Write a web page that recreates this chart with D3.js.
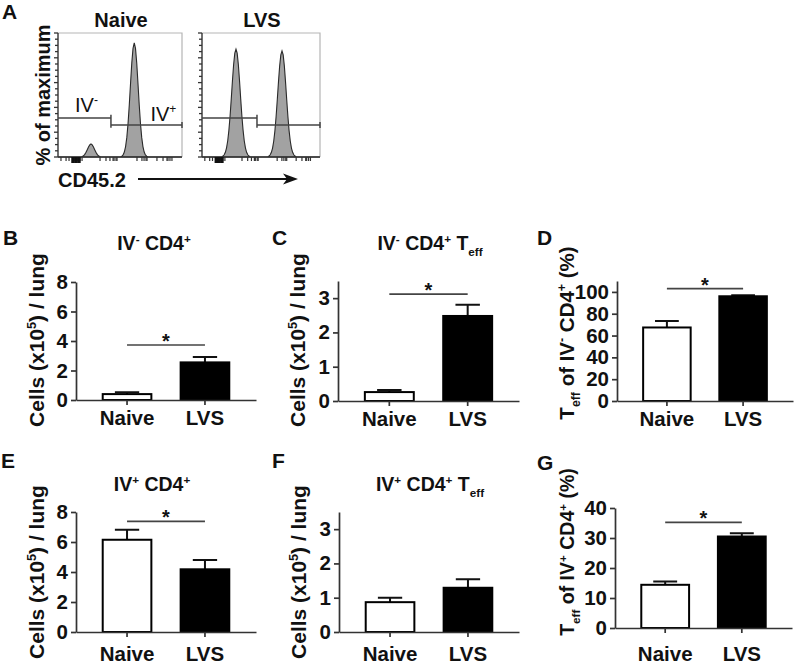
<!DOCTYPE html>
<html><head><meta charset="utf-8">
<script src="https://cdn.jsdelivr.net/npm/d3@7"></script>
<style>
body{margin:0;background:#fff}
svg text{font-family:"Liberation Sans",Arial,Helvetica,sans-serif;font-weight:bold;fill:#111;white-space:pre}
</style>
</head><body><svg id="c" width="800" height="670"></svg>
<script>
// ---------------- DATA ----------------
const categories = ["Naive", "LVS"];

const ivNegCD4Mean = [0.40, 2.55];
const ivNegCD4Sem = [0.13, 0.36];
const ivNegTeffMean = [0.26, 2.48];
const ivNegTeffSem = [0.06, 0.33];
const ivNegTeffPctMean = [67.4, 96.0];
const ivNegTeffPctSem = [6.0, 1.0];
const ivPosCD4Mean = [6.15, 4.18];
const ivPosCD4Sem = [0.66, 0.62];
const ivPosTeffMean = [0.87, 1.29];
const ivPosTeffSem = [0.13, 0.25];
const ivPosTeffPctMean = [14.4, 30.5];
const ivPosTeffPctSem = [1.1, 1.1];

// significance bar heights (null = no bar)
const sigLevels = [3.73, 3.12, 103, 7.38, null, 35.2];

const cellTicks8 = [0, 2, 4, 6, 8];
const cellTicks3 = [0, 1, 2, 3];
const pctTicks100 = [0, 20, 40, 60, 80, 100];
const pctTicks40 = [0, 10, 20, 30, 40];

// Histogram (CD45.2 channel 0-100, % of maximum)
const histNaive = [[0,0],[18.6,0],[19.6,0.4],[20.6,1.0],[21.6,2.1],[22.6,3.8],[23.6,5.9],[24.6,8.1],[25.6,9.8],[26.6,10.5],[27.6,9.8],[28.6,8.1],[29.6,5.9],[30.6,3.8],[31.6,2.1],[32.6,1.0],[33.6,0.4],[34.6,0],
 [50.5,0],[51.5,0.7],[52.5,1.7],[53.5,4.0],[54.5,8.4],[55.5,15.8],[56.5,27.1],[57.5,42.1],[58.5,59.3],[59.5,75.7],[60.5,87.6],[61.5,92],[62.5,87.6],[63.5,75.7],[64.5,59.3],[65.5,42.1],[66.5,27.1],[67.5,15.8],[68.5,8.4],[69.5,4.0],[70.5,1.7],[71.5,0.7],[72.5,0],[100,0]];
const histLvs = [[0,0],[16.8,0],[17.8,0.8],[18.8,1.8],[19.8,3.8],[20.8,7.4],[21.8,13.1],[22.8,21.7],[23.8,33.1],[24.8,46.9],[25.8,61.5],[26.8,74.6],[27.8,83.7],[28.8,87],[29.8,83.7],[30.8,74.6],[31.8,61.5],[32.8,46.9],[33.8,33.1],[34.8,21.7],[35.8,13.1],[36.8,7.4],[37.8,3.8],[38.8,1.8],[39.8,0.8],[40.8,0],
 [55.8,0],[56.8,0.8],[57.8,1.8],[58.8,3.8],[59.8,7.2],[60.8,12.9],[61.8,21.3],[62.8,32.6],[63.8,46.1],[64.8,60.4],[65.8,73.3],[66.8,82.3],[67.8,85.5],[68.8,82.3],[69.8,73.3],[70.8,60.4],[71.8,46.1],[72.8,32.6],[73.8,21.3],[74.8,12.9],[75.8,7.2],[76.8,3.8],[77.8,1.8],[78.8,0.8],[79.8,0],[100,0]];
const histYTicks = [0,5,10,15,20,25,30,35,40,45,50,55,60,65,70,75,80,85,90,95,100];
const histXTicks = [2.4,6.5,8.9,12.1,13.7,15.3,16.1,17.7,19.4,33.9,38.7,41.9,44.4,45.2,46.8,47.6,63.7,67.7,69.4,71.0,71.8,79.8,84.7,87.9,88.7,90.3,91.9];
const histXDense = [11.5,12.7,13.9,15.1,16.3,17.5];
const gateSplit = [42.7, 46.6];
const gateNegLevel = 31.5;
const gatePosLevel = 25.8;

// ---------------- DRAW ----------------
const svg = d3.select("#c");
const AX = "#333";
const TICKFS = 20.5;

function rich(sel, parts, fs) {
  let shift = 0;
  parts.forEach(p => {
    const target = p.sup ? -0.38 * fs : (p.sub ? 0.3 * fs : 0);
    const ts = sel.append("tspan").text(p.t).attr("dy", (target - shift).toFixed(2));
    if (p.sup || p.sub) ts.attr("font-size", (fs * 0.6).toFixed(1));
    shift = target;
  });
}
function letter(t, x, y) {
  svg.append("text").attr("x", x).attr("y", y).attr("font-size", 21).text(t);
}

// ---- Panel A ----
letter("A", 2, 19);
const hy = d3.scaleLinear().domain([0, 100]).range([157, 33]);
const histPanels = [
  {data: histNaive, x0: 58, x1: 182, title: "Naive", split: gateSplit[0], labels: true},
  {data: histLvs, x0: 202, x1: 320, title: "LVS", split: gateSplit[1], labels: false}
];
histPanels.forEach(hp => {
  const hx = d3.scaleLinear().domain([0, 100]).range([hp.x0, hp.x1]);
  const g = svg.append("g");
  g.append("path").datum(hp.data)
    .attr("d", d3.area().x(d => hx(d[0])).y0(hy(0)).y1(d => hy(d[1])))
    .attr("fill", "#a2a2a2").attr("stroke", "#2a2a2a").attr("stroke-width", 1.1);
  // frame top/right
  g.append("path").attr("d", `M${hx(0)},${hy(100)}H${hx(100)}V${hy(0)}`)
    .attr("fill", "none").attr("stroke", "#b5b5b5").attr("stroke-width", 1.2);
  // left axis
  g.append("line").attr("x1", hx(0)).attr("x2", hx(0)).attr("y1", hy(0)).attr("y2", hy(100))
    .attr("stroke", AX).attr("stroke-width", 1.4);
  g.selectAll(".yt").data(histYTicks).join("line")
    .attr("x1", hx(0)).attr("x2", d => hx(0) - (d % 20 === 0 ? 4 : 3))
    .attr("y1", d => hy(d)).attr("y2", d => hy(d))
    .attr("stroke", AX).attr("stroke-width", 1.3);
  // bottom axis
  g.append("line").attr("x1", hx(0)).attr("x2", hx(100)).attr("y1", hy(0)).attr("y2", hy(0))
    .attr("stroke", AX).attr("stroke-width", 1.4);
  g.selectAll(".xt").data(histXTicks).join("line")
    .attr("x1", d => hx(d)).attr("x2", d => hx(d))
    .attr("y1", hy(0)).attr("y2", hy(0) + 4)
    .attr("stroke", AX).attr("stroke-width", 1.2);
  g.selectAll(".xd").data(histXDense).join("line")
    .attr("x1", d => hx(d)).attr("x2", d => hx(d))
    .attr("y1", hy(0)).attr("y2", hy(0) + 6)
    .attr("stroke", "#111").attr("stroke-width", 2);
  // gates
  const sx = hx(hp.split);
  g.append("path")
    .attr("d", `M${hx(0)},${hy(gateNegLevel)}H${sx}M${sx},${hy(gateNegLevel + 2.5)}V${hy(gatePosLevel - 2.3)}M${sx},${hy(gatePosLevel)}H${hx(100)}M${hx(100)},${hy(gatePosLevel + 2.5)}V${hy(gatePosLevel - 2.5)}`)
    .attr("fill", "none").attr("stroke", "#444").attr("stroke-width", 1.5);
  if (hp.labels) {
    const t1 = g.append("text").attr("x", hx(23)).attr("y", hy(gateNegLevel) - 6)
      .attr("text-anchor", "middle").attr("font-size", 20).style("font-weight", "normal");
    rich(t1, [{t: "IV"}, {t: "-", sup: true}], 20);
    const t2 = g.append("text").attr("x", hx(85)).attr("y", hy(gatePosLevel) - 4)
      .attr("text-anchor", "middle").attr("font-size", 20).style("font-weight", "normal");
    rich(t2, [{t: "IV"}, {t: "+", sup: true}], 20);
  }
  g.append("text").attr("x", (hp.x0 + hp.x1) / 2 + 1).attr("y", 27)
    .attr("text-anchor", "middle").attr("font-size", 20).text(hp.title);
});
svg.append("text").attr("transform", "translate(50,95) rotate(-90)")
  .attr("text-anchor", "middle").attr("font-size", 20).text("% of maximum");
svg.append("text").attr("x", 58).attr("y", 187).attr("font-size", 20).text("CD45.2");
svg.append("line").attr("x1", 138).attr("x2", 290).attr("y1", 179).attr("y2", 179)
  .attr("stroke", "#111").attr("stroke-width", 2);
svg.append("path").attr("d", "M298,179L283,173.5L287,179L283,184.5Z").attr("fill", "#111");

// ---- Bar panels ----
const cellsLabel = [{t: "Cells (x10"}, {t: "5", sup: true}, {t: ") / lung"}];
const panels = [
  {L: "B", lx: 3, ly: 245, mean: ivNegCD4Mean, sem: ivNegCD4Sem, sig: sigLevels[0], ymax: 8, ticks: cellTicks8,
   ax: 76, xe: 256, y0: 400, yt: 282, lab: 425,
   title: [{t: "IV"}, {t: "-", sup: true}, {t: " CD4"}, {t: "+", sup: true}], tx: 154, ty: 250,
   ylab: cellsLabel, ylx: 44, yly: 340, yfs: 21},
  {L: "C", lx: 272, ly: 245, mean: ivNegTeffMean, sem: ivNegTeffSem, sig: sigLevels[1], ymax: 3.5, ticks: cellTicks3,
   ax: 338, xe: 519, y0: 401, yt: 281, lab: 426,
   title: [{t: "IV"}, {t: "-", sup: true}, {t: " CD4"}, {t: "+", sup: true}, {t: " T"}, {t: "eff", sub: true}], tx: 430, ty: 250,
   ylab: cellsLabel, ylx: 305, yly: 340, yfs: 21},
  {L: "D", lx: 537, ly: 245, mean: ivNegTeffPctMean, sem: ivNegTeffPctSem, sig: sigLevels[2], ymax: 110, ticks: pctTicks100,
   ax: 617, xe: 793, y0: 401, yt: 281, lab: 426, title: null,
   ylab: [{t: "T"}, {t: "eff", sub: true}, {t: " of IV"}, {t: "-", sup: true}, {t: " CD4"}, {t: "+", sup: true}, {t: " (%)"}],
   ylx: 574, yly: 333, yfs: 20.5},
  {L: "E", lx: 1, ly: 468, mean: ivPosCD4Mean, sem: ivPosCD4Sem, sig: sigLevels[3], ymax: 8, ticks: cellTicks8,
   ax: 76, xe: 256, y0: 632, yt: 512, lab: 661,
   title: [{t: "IV"}, {t: "+", sup: true}, {t: " CD4"}, {t: "+", sup: true}], tx: 152, ty: 491,
   ylab: cellsLabel, ylx: 44, yly: 572, yfs: 21},
  {L: "F", lx: 272, ly: 468, mean: ivPosTeffMean, sem: ivPosTeffSem, sig: sigLevels[4], ymax: 3.5, ticks: cellTicks3,
   ax: 339, xe: 519, y0: 632, yt: 512, lab: 661,
   title: [{t: "IV"}, {t: "+", sup: true}, {t: " CD4"}, {t: "+", sup: true}, {t: " T"}, {t: "eff", sub: true}], tx: 430, ty: 491,
   ylab: cellsLabel, ylx: 306, yly: 572, yfs: 21},
  {L: "G", lx: 537, ly: 470, mean: ivPosTeffPctMean, sem: ivPosTeffPctSem, sig: sigLevels[5], ymax: 40, ticks: pctTicks40,
   ax: 615, xe: 792, y0: 628, yt: 508, lab: 661, title: null,
   ylab: [{t: "T"}, {t: "eff", sub: true}, {t: " of IV"}, {t: "+", sup: true}, {t: " CD4"}, {t: "+", sup: true}, {t: " (%)"}],
   ylx: 574, yly: 552, yfs: 19.5}
];

panels.forEach(p => {
  letter(p.L, p.lx, p.ly);
  const x = d3.scaleBand().domain(categories).range([p.ax, p.xe]).paddingInner(0.35).paddingOuter(0.33);
  const y = d3.scaleLinear().domain([0, p.ymax]).range([p.y0, p.yt]);
  const g = svg.append("g");
  const rows = categories.map((c, i) => ({c, m: p.mean[i], s: p.sem[i], i}));

  // error bars (upward)
  const cw = x.bandwidth() * 0.24;
  rows.forEach(r => {
    const cx = x(r.c) + x.bandwidth() / 2;
    g.append("path").attr("d", `M${cx},${y(r.m)}V${y(r.m + r.s)}M${cx - cw},${y(r.m + r.s)}H${cx + cw}`)
      .attr("fill", "none").attr("stroke", "#111").attr("stroke-width", 2);
  });
  // bars
  g.selectAll("rect").data(rows).join("rect")
    .attr("x", d => x(d.c) + 1).attr("width", x.bandwidth() - 2)
    .attr("y", d => y(d.m)).attr("height", d => y(0) - y(d.m))
    .attr("fill", d => d.i === 0 ? "#fff" : "#000")
    .attr("stroke", "#000").attr("stroke-width", 2);

  // axes
  const ya = g.append("g").attr("transform", `translate(${p.ax},0)`)
    .call(d3.axisLeft(y).tickValues(p.ticks).tickSize(5).tickSizeOuter(0).tickPadding(3).tickFormat(d3.format("d")));
  const xa = g.append("g").attr("transform", `translate(0,${p.y0})`)
    .call(d3.axisBottom(x).tickSize(5).tickSizeOuter(0).tickPadding(p.lab - p.y0 - 20));
  [ya, xa].forEach(a => {
    a.select(".domain").attr("stroke", AX).attr("stroke-width", 1.7);
    a.selectAll(".tick line").attr("stroke", AX).attr("stroke-width", 1.7);
    a.selectAll(".tick text").attr("font-size", TICKFS).attr("font-family", null).attr("fill", "#111");
  });

  // significance
  if (p.sig !== null) {
    const xa1 = x(categories[0]) + x.bandwidth() / 2;
    const xa2 = x(categories[1]) + x.bandwidth() / 2;
    g.append("line").attr("x1", xa1).attr("x2", xa2).attr("y1", y(p.sig)).attr("y2", y(p.sig))
      .attr("stroke", "#444").attr("stroke-width", 1.7);
    g.append("text").attr("x", (xa1 + xa2) / 2).attr("y", y(p.sig) + 3)
      .attr("text-anchor", "middle").attr("font-size", 20).text("*");
  }
  // title
  if (p.title) {
    const t = g.append("text").attr("x", p.tx).attr("y", p.ty).attr("text-anchor", "middle").attr("font-size", 19.5);
    rich(t, p.title, 19.5);
  }
  // y label
  const yl = g.append("text").attr("transform", `translate(${p.ylx},${p.yly}) rotate(-90)`)
    .attr("text-anchor", "middle").attr("font-size", p.yfs);
  rich(yl, p.ylab, p.yfs);
});
</script>
</body></html>
